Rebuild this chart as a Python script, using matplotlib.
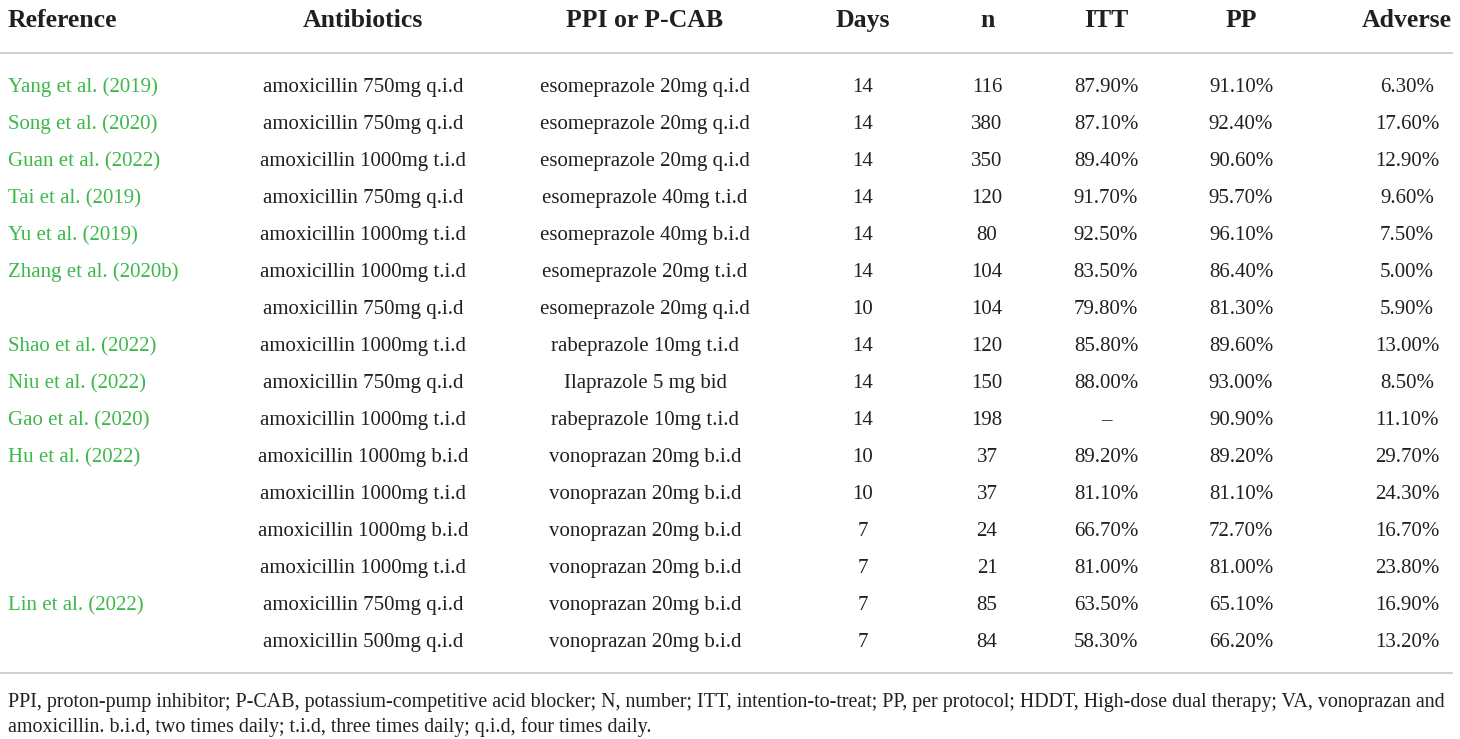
import matplotlib
matplotlib.use("Agg")
from matplotlib import pyplot as plt

# --- table data ---
headers = ["Reference", "Antibiotics", "PPI or P-CAB", "Days", "n", "ITT", "PP", "Adverse"]
references = ["Yang et al. (2019)", "Song et al. (2020)", "Guan et al. (2022)", "Tai et al. (2019)",
              "Yu et al. (2019)", "Zhang et al. (2020b)", "", "Shao et al. (2022)", "Niu et al. (2022)",
              "Gao et al. (2020)", "Hu et al. (2022)", "", "", "", "Lin et al. (2022)", ""]
antibiotics = ["amoxicillin 750mg q.i.d", "amoxicillin 750mg q.i.d", "amoxicillin 1000mg t.i.d",
               "amoxicillin 750mg q.i.d", "amoxicillin 1000mg t.i.d", "amoxicillin 1000mg t.i.d",
               "amoxicillin 750mg q.i.d", "amoxicillin 1000mg t.i.d", "amoxicillin 750mg q.i.d",
               "amoxicillin 1000mg t.i.d", "amoxicillin 1000mg b.i.d", "amoxicillin 1000mg t.i.d",
               "amoxicillin 1000mg b.i.d", "amoxicillin 1000mg t.i.d", "amoxicillin 750mg q.i.d",
               "amoxicillin 500mg q.i.d"]
acid = ["esomeprazole 20mg q.i.d", "esomeprazole 20mg q.i.d", "esomeprazole 20mg q.i.d",
        "esomeprazole 40mg t.i.d", "esomeprazole 40mg b.i.d", "esomeprazole 20mg t.i.d",
        "esomeprazole 20mg q.i.d", "rabeprazole 10mg t.i.d", "Ilaprazole 5 mg bid",
        "rabeprazole 10mg t.i.d", "vonoprazan 20mg b.i.d", "vonoprazan 20mg b.i.d",
        "vonoprazan 20mg b.i.d", "vonoprazan 20mg b.i.d", "vonoprazan 20mg b.i.d",
        "vonoprazan 20mg b.i.d"]
days = [14, 14, 14, 14, 14, 14, 10, 14, 14, 14, 10, 10, 7, 7, 7, 7]
n = [116, 380, 350, 120, 80, 104, 104, 120, 150, 198, 37, 37, 24, 21, 85, 84]
itt = ["87.90%", "87.10%", "89.40%", "91.70%", "92.50%", "83.50%", "79.80%", "85.80%", "88.00%",
       "–", "89.20%", "81.10%", "66.70%", "81.00%", "63.50%", "58.30%"]
pp = ["91.10%", "92.40%", "90.60%", "95.70%", "96.10%", "86.40%", "81.30%", "89.60%", "93.00%",
      "90.90%", "89.20%", "81.10%", "72.70%", "81.00%", "65.10%", "66.20%"]
adverse = ["6.30%", "17.60%", "12.90%", "9.60%", "7.50%", "5.00%", "5.90%", "13.00%", "8.50%",
           "11.10%", "29.70%", "24.30%", "16.70%", "23.80%", "16.90%", "13.20%"]
footnote = ["PPI, proton-pump inhibitor; P-CAB, potassium-competitive acid blocker; N, number; ITT, "
            "intention-to-treat; PP, per protocol; HDDT, High-dose dual therapy; VA, vonoprazan and",
            "amoxicillin. b.i.d, two times daily; t.i.d, three times daily; q.i.d, four times daily."]

plt.rcParams['font.family'] = ['Liberation Serif', 'DejaVu Serif']

fig = plt.figure(figsize=(14.6, 7.39), dpi=100)
ax = fig.add_axes([0, 0, 1, 1])
ax.set_xlim(0, 1460)
ax.set_ylim(739, 0)
ax.axis('off')

green = '#3cb94a'
ink = '#231f20'
col_x = [8, 363, 645, 863, 987, 1106, 1241, 1407]
body = 15
head = 18.5

# header
ax.text(col_x[0], 27, headers[0], ha='left', va='baseline', fontsize=head, fontweight='bold', color=ink)
for x, h in zip(col_x[1:], headers[1:]):
    ax.text(x, 27, h, ha='center', va='baseline', fontsize=head, fontweight='bold', color=ink)

ax.plot([0, 1452], [53, 53], color='#c8c8c8', lw=1.2)

row_y0, row_h = 92, 37
columns = [antibiotics, acid, days, n, itt, pp, adverse]
for i in range(len(antibiotics)):
    y = row_y0 + i * row_h
    if references[i]:
        ax.text(col_x[0], y, references[i], ha='left', va='baseline', fontsize=body, color=green)
    for x, col in zip(col_x[1:], columns):
        ax.text(x, y, str(col[i]), ha='center', va='baseline', fontsize=body, color=ink)

ax.plot([0, 1452], [673, 673], color='#c8c8c8', lw=1.2)

for j, line in enumerate(footnote):
    ax.text(8, 707 + j * 25, line, ha='left', va='baseline', fontsize=14.4, color=ink)

fig.savefig('out.png', dpi=100)
